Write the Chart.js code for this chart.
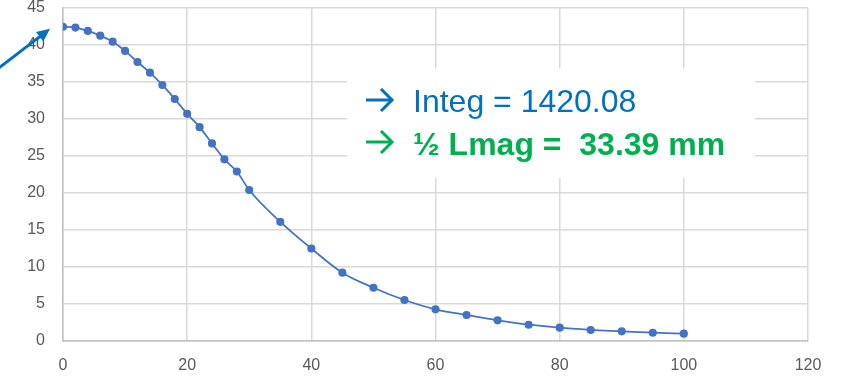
<!DOCTYPE html>
<html>
<head>
<meta charset="utf-8">
<script src="https://cdn.jsdelivr.net/npm/chart.js@4/dist/chart.umd.min.js"></script>
<style>
  html, body { margin: 0; padding: 0; background: #fff; }
  #wrap { width: 843px; height: 378px; }
</style>
</head>
<body>
<div id="wrap"><canvas id="profileChart" width="843" height="378"></canvas></div>
<script>
// Field profile
const positions = [0, 2, 4, 6, 8, 10, 12, 14, 16, 18, 20, 22, 24, 26, 28, 30,
                   35, 40, 45, 50, 55, 60, 65, 70, 75, 80, 85, 90, 95, 100];
const fieldValues = [42.47, 42.35, 41.9, 41.26, 40.45, 39.2, 37.7, 36.26, 34.6, 32.7,
                     30.7, 28.9, 26.7, 24.55, 22.9, 20.4, 16.1, 12.5, 9.23, 7.2,
                     5.54, 4.28, 3.51, 2.79, 2.2, 1.8, 1.49, 1.31, 1.12, 0.99];
const xTicks = [0, 20, 40, 60, 80, 100, 120];
const yTicks = [0, 5, 10, 15, 20, 25, 30, 35, 40, 45];
const noteLines = ['Integ = 1420.08', '\u00BD Lmag =  33.39 mm'];

const points = positions.map((x, i) => ({ x: x, y: fieldValues[i] }));

function drawRightArrow(c, x, y, color) {
    c.save();
    c.strokeStyle = color;
    c.lineWidth = 3;
    c.lineCap = 'butt';
    c.lineJoin = 'miter';
    c.beginPath();
    c.moveTo(x, y);
    c.lineTo(x + 26, y);
    c.stroke();
    c.beginPath();
    c.moveTo(x + 15, y - 11);
    c.lineTo(x + 26, y);
    c.lineTo(x + 15, y + 11);
    c.stroke();
    c.restore();
}

// white note box + arrow annotations
const notesPlugin = {
    id: 'notes',
    beforeDatasetsDraw(chart) {
        const c = chart.ctx;
        c.save();
        c.fillStyle = '#ffffff';
        c.fillRect(347, 68, 408, 110);
        c.textBaseline = 'alphabetic';
        c.textAlign = 'left';
        c.fillStyle = '#0070C0';
        c.font = '32px "Liberation Sans", Arial, sans-serif';
        c.fillText(noteLines[0], 413, 112);
        c.fillStyle = '#00B050';
        c.font = 'bold 32px "Liberation Sans", Arial, sans-serif';
        c.fillText(noteLines[1], 413, 155);
        c.restore();
        drawRightArrow(c, 366, 100, '#0070C0');
        drawRightArrow(c, 366, 142, '#00B050');
    },
    afterDraw(chart) {
        const c = chart.ctx;
        const sx = chart.scales.x, sy = chart.scales.y;
        const tipX = sx.getPixelForValue(positions[0]) - 13;
        const tipY = sy.getPixelForValue(fieldValues[0]) + 2;
        const startX = tipX - 52, startY = tipY + 40;
        const ang = Math.atan2(tipY - startY, tipX - startX);
        c.save();
        c.strokeStyle = '#0070C0';
        c.fillStyle = '#0070C0';
        c.lineWidth = 3;
        c.beginPath();
        c.moveTo(startX, startY);
        c.lineTo(tipX - 8 * Math.cos(ang), tipY - 8 * Math.sin(ang));
        c.stroke();
        c.beginPath();
        c.moveTo(tipX, tipY);
        c.lineTo(tipX - 13 * Math.cos(ang) + 6 * Math.sin(ang), tipY - 13 * Math.sin(ang) - 6 * Math.cos(ang));
        c.lineTo(tipX - 13 * Math.cos(ang) - 6 * Math.sin(ang), tipY - 13 * Math.sin(ang) + 6 * Math.cos(ang));
        c.closePath();
        c.fill();
        c.restore();
    }
};

const tickFont = { family: '"Liberation Sans", Arial, sans-serif', size: 16 };

new Chart(document.getElementById('profileChart').getContext('2d'), {
    type: 'scatter',
    data: {
        datasets: [{
            data: points,
            showLine: true,
            borderColor: '#4472C4',
            backgroundColor: '#4472C4',
            borderWidth: 1.75,
            pointRadius: 3.2,
            pointHoverRadius: 3.2,
            cubicInterpolationMode: 'monotone'
        }]
    },
    options: {
        responsive: false,
        animation: false,
        events: [],
        layout: { padding: { left: 0, top: 8, right: 35, bottom: 0 } },
        plugins: { legend: { display: false }, tooltip: { enabled: false } },
        scales: {
            x: {
                type: 'linear',
                min: xTicks[0],
                max: xTicks[xTicks.length - 1],
                afterBuildTicks: (s) => { s.ticks = xTicks.map(v => ({ value: v })); },
                afterFit: (s) => { s.height = 37; s.paddingLeft = 0; s.paddingRight = 0; },
                grid: { color: '#d9d9d9', lineWidth: 1.5, drawTicks: false },
                border: { color: '#bfbfbf', width: 1.5 },
                ticks: { color: '#595959', font: tickFont, padding: 15, maxRotation: 0 }
            },
            y: {
                min: yTicks[0],
                max: yTicks[yTicks.length - 1],
                afterBuildTicks: (s) => { s.ticks = yTicks.map(v => ({ value: v })); },
                afterFit: (s) => { s.width = 63; s.paddingTop = 0; s.paddingBottom = 0; },
                grid: { color: '#d9d9d9', lineWidth: 1.5, drawTicks: false },
                border: { color: '#bfbfbf', width: 1.5 },
                ticks: { color: '#595959', font: tickFont, padding: 18 }
            }
        }
    },
    plugins: [notesPlugin]
});
</script>
</body>
</html>
